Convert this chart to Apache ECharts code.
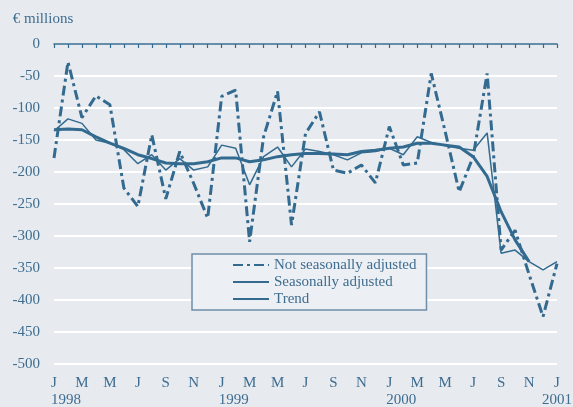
<!DOCTYPE html>
<html><head><meta charset="utf-8">
<script src="https://cdn.jsdelivr.net/npm/echarts@6/dist/echarts.min.js"></script>
<style>html,body{margin:0;padding:0;background:#e7eaef}#c{width:573px;height:407px}</style>
</head><body><div id="c"></div>
<script>
const months = ['J','F','M','A','M','J','J','A','S','O','N','D','J','F','M','A','M','J','J','A','S','O','N','D','J','F','M','A','M','J','J','A','S','O','N','D','J'];
const yearLabels = {0:'1998',12:'1999',24:'2000',36:'2001'};
const notSA = [-178,-28,-115,-81,-95,-225,-254,-142,-242,-168,-218,-272,-82,-72,-309,-145,-74,-283,-140,-106,-197,-202,-189,-217,-129,-189,-186,-46,-137,-231,-176,-46,-322,-291,-360,-426,-343];
const sa = [-136,-117,-124,-150,-155,-165,-187,-173,-197,-179,-197,-192,-158,-163,-220,-176,-161,-192,-164,-168,-173,-181,-170,-168,-163,-173,-145,-154,-159,-163,-166,-139,-327,-322,-340,-353,-340];
const trend = [-134,-133,-134,-145,-155,-163,-173,-179,-186,-187,-187,-184,-178,-178,-184,-181,-176,-173,-171,-171,-172,-173,-168,-166,-163,-161,-155,-155,-158,-161,-176,-207,-262,-306,-340];
const yTicks = {min:-500, max:0, interval:50};

const C = '#336a8f', T = '#3f6d90', F = 'Liberation Serif';
const chart = echarts.init(document.getElementById('c'));
chart.setOption({
  backgroundColor:'#e7eaef',
  animation:false,
  grid:{left:54,right:16,top:44,bottom:43, outerBoundsMode:'none', containLabel:false},
  xAxis:[{
    type:'category', data:months, boundaryGap:false, position:'bottom',
    axisLine:{show:false}, axisTick:{show:false},
    axisLabel:{interval:1, showMinLabel:true, showMaxLabel:true, hideOverlap:false,
      color:T, fontFamily:F, fontSize:15, margin:12},
    splitLine:{show:false}
  },{
    type:'category', data:months, boundaryGap:false, position:'top',
    axisLine:{show:true, onZero:false, lineStyle:{color:C,width:1.5}},
    axisTick:{show:true, inside:true, interval:0, length:4, lineStyle:{color:C,width:1.2}},
    axisLabel:{show:false}, splitLine:{show:false}
  },{
    type:'category', data:months, boundaryGap:false, position:'bottom', offset:17,
    axisLine:{show:false}, axisTick:{show:false},
    axisLabel:{interval:0, showMinLabel:true, showMaxLabel:true, hideOverlap:false,
      color:T, fontFamily:F, fontSize:15, margin:12,
      formatter:(v,i)=> yearLabels[i] ? (i===36 ? '{e|'+yearLabels[i]+'}' : '{y|'+yearLabels[i]+'}') : '',
      rich:{y:{padding:[0,0,0,24],color:T,fontFamily:F,fontSize:15},
            e:{color:T,fontFamily:F,fontSize:15}}},
    splitLine:{show:false}
  }],
  yAxis:{
    type:'value', min:yTicks.min, max:yTicks.max, interval:yTicks.interval,
    name:'€ millions', nameLocation:'end', nameGap:17,
    nameTextStyle:{color:T, fontFamily:F, fontSize:15, padding:[0,22,0,0]},
    axisLine:{show:false}, axisTick:{show:false},
    axisLabel:{color:T, fontFamily:F, fontSize:15, margin:14},
    splitLine:{lineStyle:{color:'#ffffff', width:2}}
  },
  legend:{
    orient:'vertical', left:192, top:254,
    padding:[3,10,3,40], itemGap:1, itemWidth:36, itemHeight:10,
    backgroundColor:'#eceff3', borderColor:'#6f8fab', borderWidth:1.5, borderRadius:0,
    itemStyle:{opacity:0, borderWidth:0},
    textStyle:{color:T, fontFamily:F, fontSize:15, lineHeight:16},
    data:['Not seasonally adjusted','Seasonally adjusted','Trend']
  },
  series:[
    {name:'Not seasonally adjusted', type:'line', data:notSA, symbol:'none', xAxisIndex:0,
     lineStyle:{color:C, width:3, type:[10,4,3,4]}, itemStyle:{color:C}, z:3},
    {name:'Seasonally adjusted', type:'line', data:sa, symbol:'none', xAxisIndex:0,
     lineStyle:{color:C, width:1.5}, itemStyle:{color:C}, z:4},
    {name:'Trend', type:'line', data:trend, symbol:'none', xAxisIndex:0,
     lineStyle:{color:C, width:3}, itemStyle:{color:C}, z:5}
  ]
});
</script></body></html>
